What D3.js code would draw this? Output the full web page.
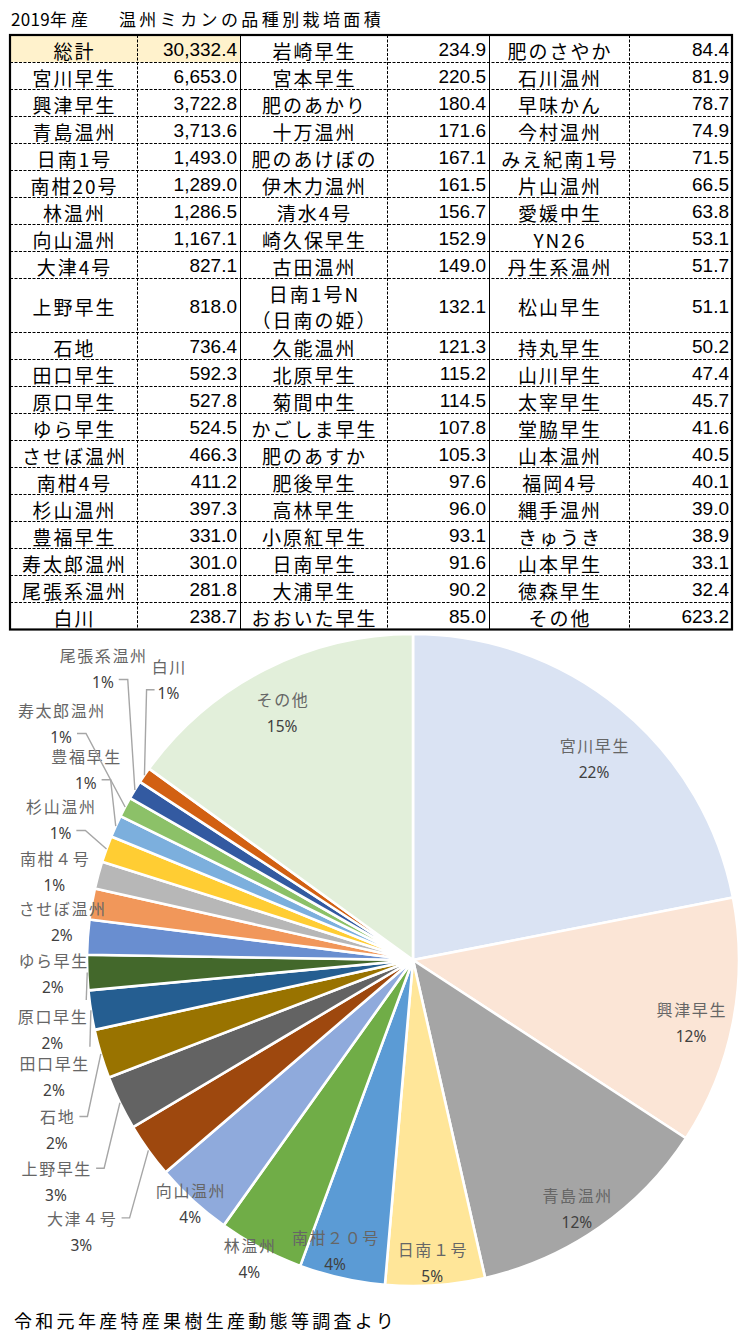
<!DOCTYPE html>
<html><head><meta charset="utf-8">
<script src="https://cdn.jsdelivr.net/npm/d3@7/dist/d3.min.js"></script>
<style>
body{margin:0;background:#fff}
svg{display:block}
</style>
</head><body>
<svg id="chart" width="755" height="1342"></svg>
<script>
// ---------------- data ----------------
const titleParts = ["2019", "年産", "　", "温州ミカンの品種別栽培面積"];
const sourceNote = "令和元年産特産果樹生産動態等調査より";

const col1Names = ["総計","宮川早生","興津早生","青島温州","日南1号","南柑20号","林温州","向山温州","大津4号","上野早生","石地","田口早生","原口早生","ゆら早生","させぼ温州","南柑4号","杉山温州","豊福早生","寿太郎温州","尾張系温州","白川"];
const col1Values = [30332.4,6653.0,3722.8,3713.6,1493.0,1289.0,1286.5,1167.1,827.1,818.0,736.4,592.3,527.8,524.5,466.3,411.2,397.3,331.0,301.0,281.8,238.7];
const col2Names = ["岩崎早生","宮本早生","肥のあかり","十万温州","肥のあけぼの","伊木力温州","清水4号","崎久保早生","古田温州","日南1号N\n（日南の姫）","久能温州","北原早生","菊間中生","かごしま早生","肥のあすか","肥後早生","高林早生","小原紅早生","日南早生","大浦早生","おおいた早生"];
const col2Values = [234.9,220.5,180.4,171.6,167.1,161.5,156.7,152.9,149.0,132.1,121.3,115.2,114.5,107.8,105.3,97.6,96.0,93.1,91.6,90.2,85.0];
const col3Names = ["肥のさやか","石川温州","早味かん","今村温州","みえ紀南1号","片山温州","愛媛中生","YN26","丹生系温州","松山早生","持丸早生","山川早生","太宰早生","堂脇早生","山本温州","福岡4号","縄手温州","きゅうき","山本早生","徳森早生","その他"];
const col3Values = [84.4,81.9,78.7,74.9,71.5,66.5,63.8,53.1,51.7,51.1,50.2,47.4,45.7,41.6,40.5,40.1,39.0,38.9,33.1,32.4,623.2];

const pieCategories = ["宮川早生","興津早生","青島温州","日南１号","南柑２０号","林温州","向山温州","大津４号","上野早生","石地","田口早生","原口早生","ゆら早生","させぼ温州","南柑４号","杉山温州","豊福早生","寿太郎温州","尾張系温州","白川","その他"];
const pieValues = [6653.0,3722.8,3713.6,1493.0,1289.0,1286.5,1167.1,827.1,818.0,736.4,592.3,527.8,524.5,466.3,411.2,397.3,331.0,301.0,281.8,238.7,4554.0];

// ---------------- styles / layout ----------------
const pieColors = ["#DAE3F3","#FBE5D6","#A5A5A5","#FFE699","#5B9BD5","#70AD47","#8FAADC","#9E480E","#636363","#997300","#255E91","#43682B","#698ED0","#F1975A","#B7B7B7","#FFCD33","#7CAFDD","#8CC168","#335AA1","#D26012","#E2EFDA"];
// label placement: inside -> polar (angle shift deg, radius factor); outside -> offset from slice rim point + leader style
const labelLayout = [
  {mode:"in", da:2.4, f:0.832},
  {mode:"in", da:1.6, f:0.874},
  {mode:"in", da:1.4, f:0.913},
  {mode:"in", da:0.3, f:0.930},
  {mode:"in", da:2.4, f:0.924},
  {mode:"in", da:0.9, f:1.043},
  {mode:"in", da:0.0, f:1.013},
  {mode:"out", dx:-67, dy:81, leader:"nameR"},
  {mode:"out", dx:-64, dy:79, leader:"nameR"},
  {mode:"out", dx:-44, dy:76, leader:"nameR"},
  {mode:"out", dx:-37, dy:66, leader:"down"},
  {mode:"out", dx:-35, dy:57, leader:"down"},
  {mode:"out", dx:-35, dy:36, leader:"none"},
  {mode:"out", dx:-30, dy:18, leader:"none"},
  {mode:"out", dx:-44, dy:-3, leader:"none"},
  {mode:"out", dx:-46, dy:-29, leader:"pctR"},
  {mode:"out", dx:-30, dy:-57, leader:"pctR"},
  {mode:"out", dx:-64, dy:-84, leader:"pctR"},
  {mode:"out", dx:-32, dy:-121, leader:"pctR"},
  {mode:"out", dx:24, dy:-96, leader:"pctL"},
  {mode:"in", da:-0.8, f:0.860}
];

const JP = "'Noto Sans CJK JP','Noto Sans',sans-serif";
const svg = d3.select("#chart");

// ---------------- title ----------------
const title = svg.append("text").attr("x", 11).attr("y", 18)
  .attr("dominant-baseline","central").attr("font-family", JP).attr("font-size", 17).attr("fill","#000");
title.append("tspan").attr("letter-spacing", 0.3).text(titleParts[0]);
title.append("tspan").attr("letter-spacing", 4).text(titleParts[1]);
title.append("tspan").attr("letter-spacing", 10).text(titleParts[2]);
title.append("tspan").attr("letter-spacing", 3.4).text(titleParts[3]);

// ---------------- table ----------------
const tTop = 35, tBottom = 629.5, tLeft = 10, tRight = 732;
const colEdges = [tLeft, 137, 240, 387, 489, 629, tRight];
const nRows = col1Names.length;
const mergedRow = 9;
const slotStart = i => i <= mergedRow ? i : i + 1;
const slotSpan = i => i === mergedRow ? 2 : 1;
const ySlot = d3.scaleLinear().domain([0, nRows + 1]).range([tTop, tBottom]);

const tbl = svg.append("g");
tbl.append("rect").attr("x", colEdges[0]).attr("y", ySlot(0))
  .attr("width", colEdges[2] - colEdges[0]).attr("height", ySlot(1) - ySlot(0)).attr("fill", "#FFF2CC");

const hLines = d3.range(1, nRows).map(i => ySlot(slotStart(i)));
tbl.selectAll("line.h").data(hLines).join("line").attr("class","h")
  .attr("x1", tLeft).attr("x2", tRight).attr("y1", d => Math.round(d) + 0.5).attr("y2", d => Math.round(d) + 0.5)
  .attr("stroke", "#000").attr("stroke-width", 1).attr("stroke-dasharray", "3,1.5");
[1,2,3,4,5].forEach(k => {
  tbl.append("line").attr("x1", colEdges[k] + 0.5).attr("x2", colEdges[k] + 0.5)
    .attr("y1", tTop).attr("y2", tBottom).attr("stroke", "#000").attr("stroke-width", 1)
    .attr("stroke-dasharray", (k === 2 || k === 4) ? null : "3,1.5");
});
tbl.append("rect").attr("x", tLeft).attr("y", tTop).attr("width", tRight - tLeft).attr("height", tBottom - tTop)
  .attr("fill","none").attr("stroke","#000").attr("stroke-width", 2.2);

const fmt = d3.format(",.1f");
const groups = [[col1Names, col1Values],[col2Names, col2Values],[col3Names, col3Values]];
groups.forEach(([names, vals], g) => {
  const nx0 = colEdges[g*2], nx1 = colEdges[g*2+1], vx1 = colEdges[g*2+2];
  names.forEach((nm, i) => {
    const yc = (ySlot(slotStart(i)) + ySlot(slotStart(i) + slotSpan(i))) / 2 + 1;
    const lines = nm.split("\n");
    const t = tbl.append("text").attr("font-family", JP).attr("font-size", 19).attr("letter-spacing", 2)
      .attr("text-anchor","middle").attr("dominant-baseline","central").attr("fill","#000");
    lines.forEach((ln, j) => {
      t.append("tspan").attr("x", (nx0 + nx1) / 2 + 1).attr("y", yc + (j - (lines.length - 1) / 2) * 26).text(ln);
    });
    tbl.append("text").attr("x", vx1 - 3).attr("y", yc)
      .attr("font-family", "'Liberation Sans',Arial,sans-serif").attr("font-size", 19)
      .attr("text-anchor","end").attr("dominant-baseline","central").attr("fill","#000")
      .text(fmt(vals[i]));
  });
});

// ---------------- pie ----------------
const cx = 413, cy = 960, R = 326;
const total = d3.sum(pieValues);
const pieGen = d3.pie().sort(null).value(d => d).startAngle(0).endAngle(2 * Math.PI);
const arcs = pieGen(pieValues);
const arcGen = d3.arc().innerRadius(0).outerRadius(R);
const pg = svg.append("g").attr("transform", `translate(${cx},${cy})`);
pg.selectAll("path").data(arcs).join("path")
  .attr("d", arcGen).attr("fill", (d, i) => pieColors[i])
  .attr("stroke", "#fff").attr("stroke-width", 2.6).attr("stroke-linejoin","round");

const pct = d3.format(".0%");
const polar = (ang, r) => [Math.sin(ang) * r, -Math.cos(ang) * r];
const lg = pg.append("g");
const leaderG = pg.append("g");
arcs.forEach((a, i) => {
  const L = labelLayout[i];
  const mid = (a.startAngle + a.endAngle) / 2;
  let x, y;
  const P = polar(mid, R);
  if (L.mode === "in") {
    [x, y] = polar(mid + L.da * Math.PI / 180, R * L.f);
  } else {
    x = P[0] + L.dx; y = P[1] + L.dy;
  }
  const nameY = y - 13.5, pctY = y + 13.5;
  const nt = lg.append("text").attr("x", x + 0.8).attr("y", nameY)
    .attr("font-family", JP).attr("font-size", 16).attr("letter-spacing", 1.6)
    .attr("text-anchor","middle").attr("dominant-baseline","central").attr("fill","#666")
    .text(pieCategories[i]);
  const pt = lg.append("text").attr("x", x).attr("y", pctY)
    .attr("font-family", "'Noto Sans','Open Sans',sans-serif").attr("font-size", 15.5)
    .attr("text-anchor","middle").attr("dominant-baseline","central").attr("fill","#404040")
    .text(pct(pieValues[i] / total));
  if (L.mode === "out" && L.leader !== "none") {
    let pts;
    const nw = nt.node().getComputedTextLength();
    const pw = pt.node().getComputedTextLength();
    if (L.leader === "nameR") {
      const r = x + nw / 2;
      pts = [[r + 5, nameY], [r + 13, nameY], P];
    } else if (L.leader === "pctR") {
      const r = x + pw / 2, yy = pctY - 3;
      pts = [[r + 5, yy], [r + 14, yy], P];
    } else if (L.leader === "pctL") {
      const l = x - pw / 2, yy = pctY - 3;
      pts = [[l - 3, yy], [l - 11, yy], P];
    } else if (L.leader === "down") {
      pts = [[P[0] - 1, nameY - 16], P];
    }
    leaderG.append("path").attr("d", d3.line()(pts))
      .attr("fill","none").attr("stroke","#A6A6A6").attr("stroke-width", 1.4);
  }
});

// ---------------- source note ----------------
svg.append("text").attr("x", 14).attr("y", 1320)
  .attr("dominant-baseline","central").attr("font-family", JP).attr("font-size", 18)
  .attr("letter-spacing", 3.3).attr("fill","#000").text(sourceNote);
</script>
</body></html>
